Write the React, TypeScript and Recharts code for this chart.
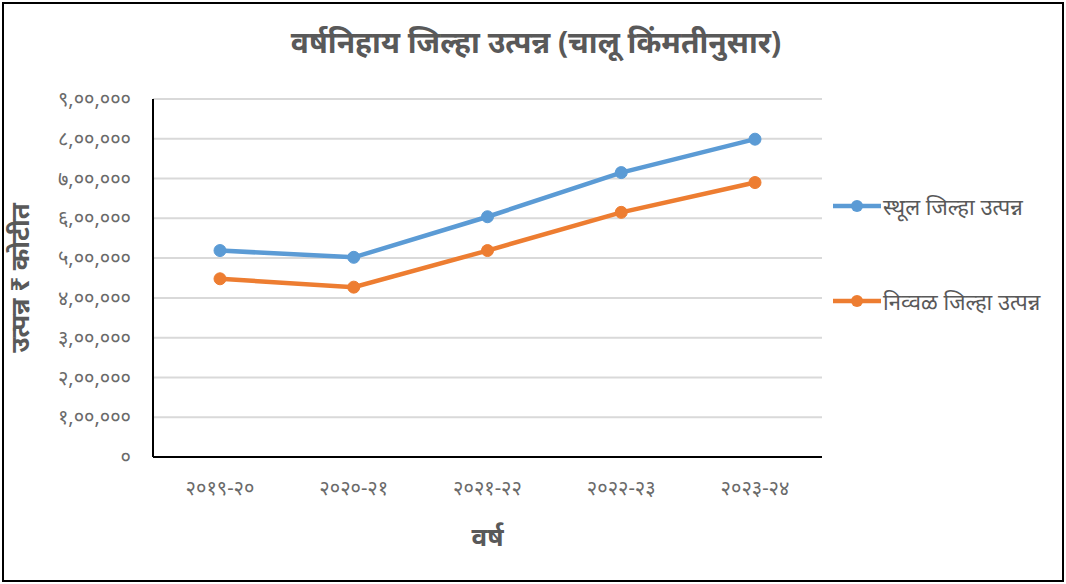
import React from "react"
import {
  LineChart,
  Line,
  XAxis,
  YAxis,
  CartesianGrid,
  Label,
} from "recharts"

const years = ["२०१९-२०", "२०२०-२१", "२०२१-२२", "२०२२-२३", "२०२३-२४"]
const grossIncome = [519000, 502000, 604000, 715000, 799000]
const netIncome = [448000, 427000, 519000, 615000, 690000]
const yTicks = [0, 100000, 200000, 300000, 400000, 500000, 600000, 700000, 800000, 900000]
const yTickLabels = [
  "०",
  "१,००,०००",
  "२,००,०००",
  "३,००,०००",
  "४,००,०००",
  "५,००,०००",
  "६,००,०००",
  "७,००,०००",
  "८,००,०००",
  "९,००,०००",
]
const seriesNames = ["स्थूल जिल्हा उत्पन्न", "निव्वळ जिल्हा उत्पन्न"]

const BLUE = "#5B9BD5"
const ORANGE = "#ED7D31"
const GREY = "#595959"
const TICK_GREY = "#6a6a6a"
const FONT = "'Noto Sans', 'Noto Sans Devanagari', Lato, sans-serif"

const rows = years.map((year, i) => ({
  year,
  gross: grossIncome[i],
  net: netIncome[i],
}))

function LegendItem({ color, label, top }: { color: string; label: string; top: number }) {
  return (
    <div style={{ position: "absolute", left: 833, top, display: "flex", alignItems: "center" }}>
      <svg width={48} height={14}>
        <line x1={0} y1={7} x2={48} y2={7} stroke={color} strokeWidth={4.5} />
        <circle cx={24} cy={7} r={6} fill={color} />
      </svg>
      <span style={{ marginLeft: 2, fontSize: 22, color: GREY, fontFamily: FONT, lineHeight: "28px" }}>
        {label}
      </span>
    </div>
  )
}

export default function App() {
  return (
    <div style={{ position: "fixed", left: 0, top: 0, width: 1066, height: 584, background: "#fff" }}>
      <div
        style={{
          position: "absolute",
          left: 2,
          top: 2,
          width: 1062,
          height: 580,
          boxSizing: "border-box",
          border: "2px solid #000",
        }}
      />
      <div
        style={{
          position: "absolute",
          left: 0,
          width: 1072,
          top: 22,
          textAlign: "center",
          fontFamily: FONT,
          fontSize: 30,
          fontWeight: 700,
          color: GREY,
          lineHeight: "40px",
        }}
      >
        वर्षनिहाय जिल्हा उत्पन्न (चालू किंमतीनुसार)
      </div>
      <div style={{ position: "absolute", left: 0, top: 0 }}>
        <LineChart
          width={1066}
          height={584}
          data={rows}
          margin={{ top: 99, right: 244, bottom: 38, left: 0 }}
        >
          <CartesianGrid vertical={false} stroke="#d9d9d9" strokeWidth={2} />
          <XAxis
            dataKey="year"
            padding={{ left: 67, right: 67 }}
            axisLine={{ stroke: "#000", strokeWidth: 2 }}
            tickLine={false}
            tickMargin={18}
            height={89}
            tick={{ fontSize: 20, fill: TICK_GREY, fontFamily: FONT }}
          >
            <Label
              value="वर्ष"
              position="insideBottom"
              offset={0}
              style={{ fontSize: 26, fontWeight: 700, fill: GREY, fontFamily: FONT }}
            />
          </XAxis>
          <YAxis
            domain={[0, 900000]}
            ticks={yTicks}
            interval={0}
            width={153}
            axisLine={{ stroke: "#000", strokeWidth: 2 }}
            tickLine={false}
            tickMargin={16}
            tickFormatter={(v: number) => yTickLabels[yTicks.indexOf(v)] ?? String(v)}
            tick={{ fontSize: 20, fill: TICK_GREY, fontFamily: FONT }}
          >
            <Label
              value="उत्पन्न ₹ कोटीत"
              angle={-90}
              position="insideLeft"
              offset={20}
              style={{ fontSize: 26, fontWeight: 700, fill: GREY, fontFamily: FONT, textAnchor: "middle" }}
            />
          </YAxis>
          <Line
            dataKey="gross"
            name={seriesNames[0]}
            stroke={BLUE}
            strokeWidth={4.5}
            dot={{ r: 6, fill: BLUE, stroke: BLUE, strokeWidth: 1 }}
            isAnimationActive={false}
          />
          <Line
            dataKey="net"
            name={seriesNames[1]}
            stroke={ORANGE}
            strokeWidth={4.5}
            dot={{ r: 6, fill: ORANGE, stroke: ORANGE, strokeWidth: 1 }}
            isAnimationActive={false}
          />
        </LineChart>
      </div>
      <LegendItem color={BLUE} label={seriesNames[0]} top={192} />
      <LegendItem color={ORANGE} label={seriesNames[1]} top={287} />
    </div>
  )
}
